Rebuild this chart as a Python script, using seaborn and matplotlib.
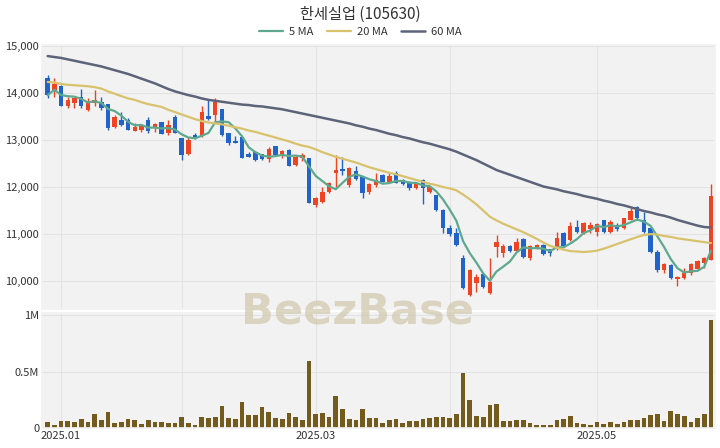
import matplotlib
matplotlib.use('Agg')
import matplotlib.pyplot as plt
import seaborn as sns
import numpy as np
import pandas as pd

# KRX trading days, Dec 27 2024 - May 29 2025
holidays = ['2024-12-31', '2025-01-01', '2025-01-27', '2025-01-28', '2025-01-29',
            '2025-01-30', '2025-03-03', '2025-05-01', '2025-05-05', '2025-05-06']
dates = pd.bdate_range('2024-12-27', '2025-05-29').drop(pd.to_datetime(holidays))

opens = [14310, 14040, 14150, 13710, 13780, 13920, 13630, 13780, 13810, 13760,
         13280, 13420, 13420, 13190, 13210, 13420, 13250, 13390, 13140, 13490,
         13030, 12710, 13100, 13090, 13500, 13530, 13650, 13140, 12980, 13070,
         12710, 12750, 12700, 12590, 12870, 12680, 12790, 12470, 12610, 12610,
         11620, 11690, 11900, 12300, 12380, 12040, 12330, 12210, 11900, 12040,
         12260, 12110, 12300, 12150, 12110, 11970, 12150, 11900, 11830, 11510,
         11140, 11030, 10490, 9710, 9960, 10150, 9740, 10730, 10590, 10750,
         10650, 10890, 10490, 10720, 10770, 10680, 10700, 11030, 10880, 11160,
         11020, 11100, 11050, 11310, 11050, 11190, 11120, 11310, 11570, 11300,
         11120, 10630, 10240, 10340, 10040, 10060, 10170, 10250, 10380, 10450]
highs = [14380, 14310, 14170, 13920, 13880, 14090, 13880, 14060, 13920, 13760,
         13530, 13600, 13460, 13350, 13330, 13490, 13350, 13390, 13420, 13530,
         13050, 13070, 13140, 13730, 13850, 13880, 13650, 13150, 13080, 13070,
         12750, 12770, 12710, 12840, 12870, 12790, 12800, 12680, 12730, 12620,
         11780, 12010, 12110, 12680, 12640, 12420, 12450, 12220, 12090, 12290,
         12270, 12290, 12330, 12180, 12130, 12110, 12180, 12020, 11830, 11530,
         11190, 11140, 10560, 10250, 10150, 10180, 10490, 10980, 10780, 10770,
         10910, 10910, 10770, 10800, 10790, 10680, 11050, 11050, 11260, 11300,
         11260, 11260, 11240, 11310, 11310, 11230, 11350, 11550, 11600, 11480,
         11140, 10660, 10380, 10370, 10110, 10270, 10380, 10440, 10520, 12060]
lows = [13880, 13920, 13710, 13670, 13670, 13680, 13610, 13710, 13630, 13210,
        13250, 13300, 13210, 13190, 13170, 13140, 13170, 13120, 13100, 13140,
        12570, 12690, 13020, 13070, 13420, 13390, 13080, 12890, 12930, 12610,
        12630, 12560, 12570, 12540, 12670, 12610, 12450, 12450, 12560, 11650,
        11580, 11650, 11870, 12000, 12250, 12010, 12150, 11760, 11850, 12010,
        12110, 12090, 12090, 12040, 11940, 11950, 11640, 11870, 11500, 11020,
        10960, 10750, 9830, 9690, 9780, 9850, 9730, 10520, 10520, 10630,
        10630, 10490, 10460, 10680, 10560, 10540, 10660, 10730, 10860, 11020,
        11000, 11030, 10950, 11030, 11030, 11070, 11100, 11290, 11310, 11020,
        10590, 10200, 10170, 10040, 9900, 10040, 10130, 10240, 10290, 10440]
closes = [13950, 14180, 13730, 13850, 13880, 13710, 13810, 13850, 13670, 13250,
          13480, 13320, 13210, 13280, 13300, 13190, 13330, 13120, 13320, 13140,
          12680, 13000, 13030, 13590, 13440, 13810, 13100, 12940, 12930, 12610,
          12640, 12570, 12590, 12800, 12680, 12770, 12450, 12640, 12680, 11650,
          11760, 11900, 12090, 12360, 12330, 12400, 12160, 11870, 12060, 12150,
          12110, 12230, 12090, 12060, 11970, 12080, 11970, 12010, 11510, 11120,
          11000, 10770, 9850, 10240, 10100, 9870, 9990, 10840, 10750, 10650,
          10840, 10510, 10750, 10770, 10580, 10590, 10910, 10750, 11170, 11050,
          11240, 11190, 11210, 11050, 11260, 11100, 11340, 11500, 11340, 11050,
          10630, 10240, 10370, 10060, 10080, 10170, 10370, 10420, 10490, 11800]
volumes = [56000, 24000, 60000, 60000, 55000, 80000, 55000, 128000, 75000, 140000,
           48000, 55000, 80000, 68000, 33000, 75000, 55000, 53000, 48000, 48000,
           98000, 48000, 24000, 98000, 92000, 98000, 193000, 86000, 77000, 232000,
           116000, 116000, 182000, 146000, 86000, 77000, 137000, 98000, 71000, 598000,
           128000, 134000, 98000, 280000, 170000, 77000, 71000, 172000, 92000, 86000,
           48000, 71000, 80000, 48000, 63000, 63000, 77000, 86000, 101000, 101000,
           92000, 122000, 485000, 250000, 110000, 98000, 202000, 211000, 63000, 63000,
           71000, 71000, 48000, 24000, 24000, 24000, 71000, 77000, 104000, 48000,
           33000, 27000, 55000, 39000, 55000, 39000, 55000, 71000, 71000, 92000,
           116000, 128000, 63000, 152000, 128000, 104000, 55000, 86000, 128000, 955000]
ma20 = [14230, 14220, 14190, 14170, 14160, 14150, 14140, 14120, 14090, 14030,
        13980, 13930, 13880, 13850, 13800, 13760, 13730, 13700, 13640, 13590,
        13540, 13490, 13440, 13400, 13370, 13350, 13330, 13300, 13270, 13240,
        13200, 13170, 13130, 13090, 13050, 13010, 12970, 12920, 12880, 12850,
        12800, 12740, 12690, 12640, 12600, 12560, 12520, 12470, 12420, 12380,
        12340, 12300, 12270, 12230, 12190, 12150, 12110, 12070, 12040, 12000,
        11970, 11930, 11840, 11740, 11630, 11500, 11370, 11290, 11220, 11160,
        11100, 11040, 10970, 10900, 10820, 10750, 10710, 10670, 10640, 10630,
        10620, 10630, 10650, 10690, 10740, 10790, 10840, 10890, 10940, 10980,
        11000, 10990, 10960, 10940, 10910, 10890, 10870, 10850, 10830, 10810]
ma60 = [14780, 14760, 14740, 14710, 14680, 14650, 14620, 14590, 14560, 14520,
        14480, 14440, 14400, 14350, 14300, 14250, 14200, 14140, 14080, 14030,
        13990, 13950, 13920, 13880, 13850, 13830, 13810, 13790, 13770, 13750,
        13740, 13720, 13710, 13690, 13670, 13650, 13620, 13590, 13560, 13530,
        13500, 13470, 13440, 13410, 13380, 13350, 13310, 13280, 13240, 13210,
        13170, 13130, 13100, 13060, 13030, 12990, 12950, 12920, 12880, 12840,
        12800, 12750, 12690, 12630, 12570, 12500, 12430, 12360, 12310, 12260,
        12210, 12160, 12110, 12060, 12010, 11980, 11950, 11910, 11880, 11850,
        11810, 11780, 11750, 11710, 11680, 11640, 11610, 11570, 11530, 11490,
        11460, 11420, 11390, 11350, 11300, 11260, 11220, 11180, 11150, 11140]

df = pd.DataFrame({'date': dates, 'open': opens, 'high': highs, 'low': lows,
                   'close': closes, 'volume': volumes, 'ma20': ma20, 'ma60': ma60})
df['x'] = np.arange(len(df))
df['ma5'] = df['close'].rolling(5, min_periods=1).mean()

up_color = '#ee4422'
down_color = '#2263c9'
colors = np.where(df['close'] >= df['open'], up_color, down_color)

sns.set_theme(style='darkgrid', rc={'axes.facecolor': '#f2f2f2', 'grid.color': '#e3e3e3',
                                    'grid.linewidth': 0.8, 'axes.edgecolor': '#f2f2f2'})
plt.rcParams['font.family'] = ['Noto Sans CJK KR', 'DejaVu Sans']

fig = plt.figure(figsize=(7.2, 4.48), dpi=100)
ax = fig.add_axes([42/720, 1-309/448, 673/720, 264/448])
axv = fig.add_axes([42/720, 1-428/448, 673/720, 115/448], sharex=ax)

# candles
ax.vlines(df['x'], df['low'], df['high'], colors=colors, linewidth=1, zorder=2)
body_lo = np.minimum(df['open'], df['close'])
body_h = np.maximum(np.abs(df['close'] - df['open']), 15)
ax.bar(df['x'], body_h, bottom=body_lo, width=0.66, color=colors, linewidth=0, zorder=3)

sns.lineplot(data=df, x='x', y='ma5', ax=ax, color='#5ea98e', linewidth=1.6, label='5 MA', zorder=4)
sns.lineplot(data=df, x='x', y='ma20', ax=ax, color='#d8c26c', linewidth=1.6, label='20 MA', zorder=4)
sns.lineplot(data=df, x='x', y='ma60', ax=ax, color='#5c6479', linewidth=1.8, label='60 MA', zorder=4)

ax.set_xlim(-0.85, 99.6)
ax.set_ylim(9410, 15015)
ax.set_yticks([10000, 11000, 12000, 13000, 14000, 15000])
ax.set_yticklabels([f'{v:,}' for v in [10000, 11000, 12000, 13000, 14000, 15000]])
ax.set_xlabel('')
ax.set_ylabel('')
ax.tick_params(axis='x', labelbottom=False, length=0)
ax.tick_params(axis='y', labelsize=8, labelcolor='#333333', length=0, pad=2)
handles, labels = ax.get_legend_handles_labels()
ax.get_legend().remove()
fig.legend(handles, labels, loc='center', bbox_to_anchor=(0.5, 1-32/448), ncol=3,
           frameon=False, fontsize=8, handlelength=2.2, columnspacing=1.2,
           handletextpad=0.5, labelcolor='#333333')

# volume
axv.bar(df['x'], df['volume'], width=0.7, color='#735a1d', linewidth=0)
axv.set_ylim(0, 1.02e6)
axv.set_yticks([0, 500000, 1000000])
axv.set_yticklabels(['0', '0.5M', '1M'])
month_idx = [int(np.argmax(df['date'].dt.month.values == m)) for m in [1, 2, 3, 4, 5]]
axv.set_xticks(month_idx)
axv.set_xticklabels([d.strftime('%Y.%m') if d.month % 2 == 1 else '' for d in df['date'].iloc[month_idx]])
ax.set_xticks(month_idx)
axv.tick_params(axis='both', labelsize=8, labelcolor='#333333', length=0, pad=2)
axv.set_xlabel('')
axv.set_ylabel('')

fig.text(0.5, 1-14/448, '한세실업 (105630)', ha='center', va='center', fontsize=11, color='#333333')
fig.text(0.497, 1-311/448, 'BeezBase', ha='center', va='center', fontsize=31, fontweight='bold',
         color='#cfc7ab', alpha=0.7, family=['DejaVu Sans'])

fig.savefig('out.png', dpi=100)
